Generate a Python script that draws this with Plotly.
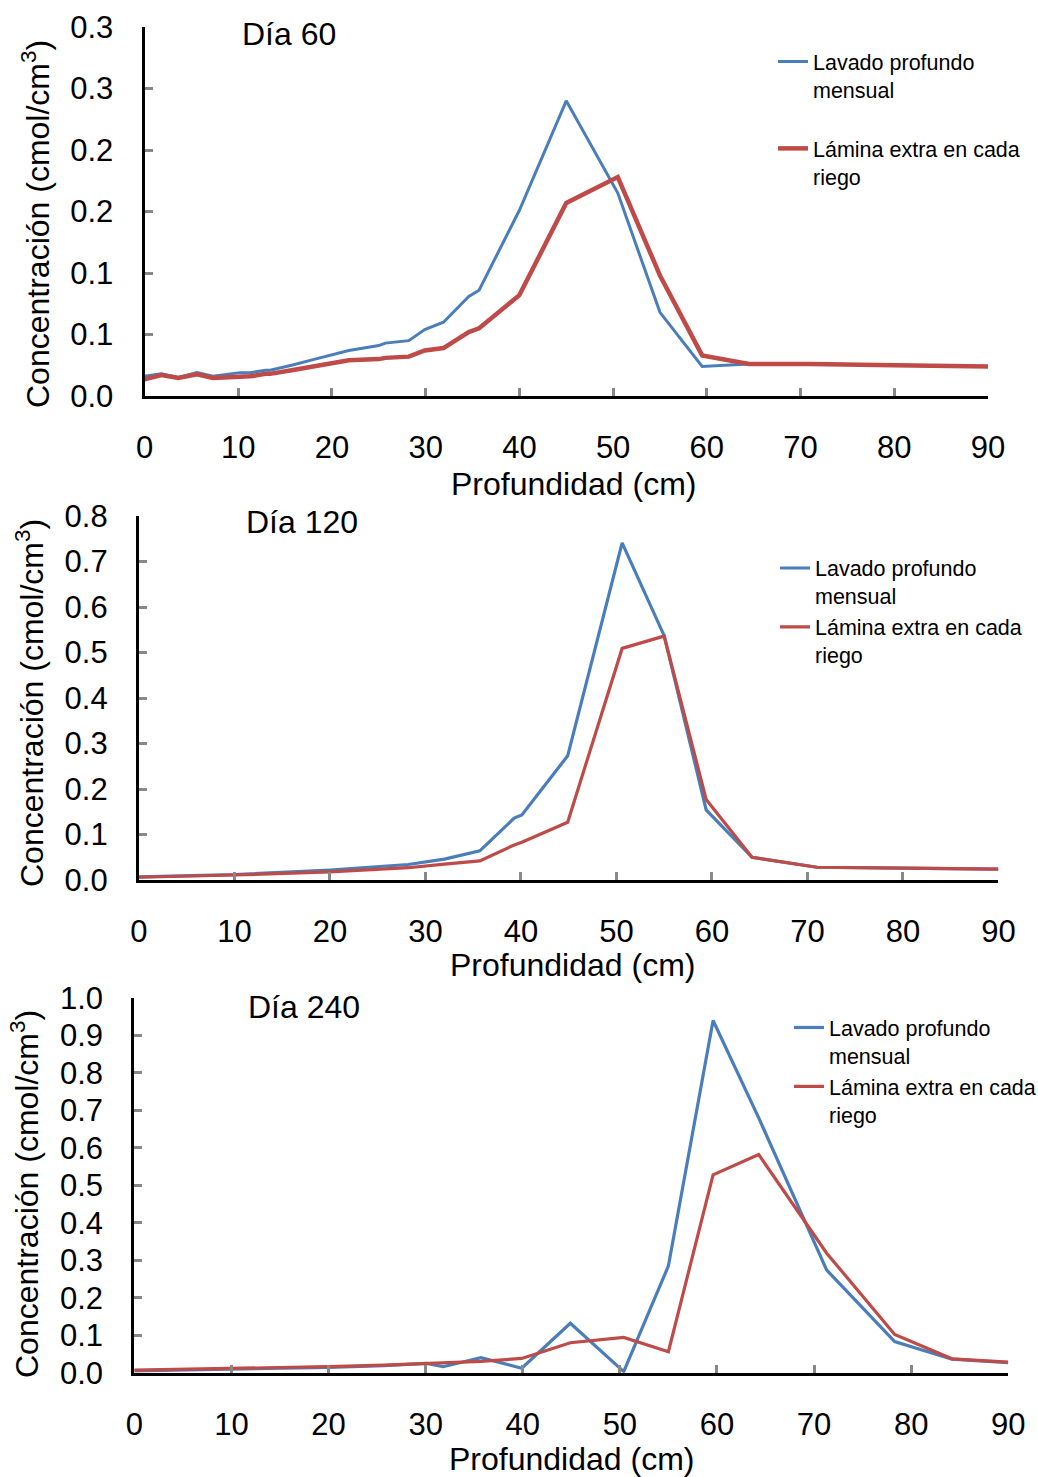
import plotly.graph_objects as go

# ---------------- data ----------------
depth_60 = [0, 1.8, 3.6, 5.6, 7.3, 10.2, 11.3, 12.9, 13.4, 15.7, 18.2, 21.8, 25.0, 25.7,
            28.2, 29.9, 31.9, 34.6, 35.7, 40, 45, 50.5, 55, 59.5, 64.5, 71, 80, 90]
lavado_60 = [0.016, 0.018, 0.015, 0.019, 0.016, 0.019, 0.019, 0.021, 0.021, 0.025, 0.030,
             0.037, 0.041, 0.043, 0.045, 0.054, 0.060, 0.081, 0.086, 0.151, 0.240, 0.165,
             0.068, 0.024, 0.026, 0.026, 0.025, 0.024]
lamina_60 = [0.0135, 0.017, 0.0146, 0.0176, 0.0146, 0.016, 0.016, 0.018, 0.018, 0.021, 0.024,
             0.029, 0.030, 0.031, 0.032, 0.037, 0.039, 0.052, 0.055, 0.082, 0.157, 0.178,
             0.098, 0.033, 0.026, 0.026, 0.025, 0.024]

depth_120 = [0, 10, 20, 25, 28.2, 32.0, 35.7, 39.3, 40.1, 44.9, 50.6, 55.0, 59.4, 64.2, 71.0, 80, 90]
lavado_120 = [0.007, 0.012, 0.022, 0.029, 0.034, 0.046, 0.064, 0.136, 0.143, 0.273, 0.741,
              0.537, 0.154, 0.050, 0.028, 0.026, 0.024]
lamina_120 = [0.006, 0.011, 0.018, 0.023, 0.027, 0.035, 0.042, 0.077, 0.083, 0.127, 0.509,
              0.536, 0.177, 0.050, 0.028, 0.026, 0.024]

depth_240 = [0, 10, 20, 25.7, 30.1, 31.8, 35.7, 39.9, 44.9, 50.4, 55, 59.6, 64.3, 71.3, 78.3, 84.2, 90]
lavado_240 = [0.005, 0.009, 0.014, 0.019, 0.025, 0.016, 0.040, 0.012, 0.132, 0.003, 0.285,
              0.940, 0.680, 0.274, 0.083, 0.036, 0.027]
lamina_240 = [0.007, 0.011, 0.016, 0.020, 0.024, 0.025, 0.030, 0.038, 0.080, 0.094, 0.056,
              0.528, 0.582, 0.319, 0.102, 0.037, 0.028]

x_ticks = [0, 10, 20, 30, 40, 50, 60, 70, 80, 90]
y_ticks_60 = [0, 0.05, 0.10, 0.15, 0.20, 0.25, 0.30]
y_labels_60 = ["0.0", "0.1", "0.1", "0.2", "0.2", "0.3", "0.3"]
y_ticks_120 = [0, 0.1, 0.2, 0.3, 0.4, 0.5, 0.6, 0.7, 0.8]
y_ticks_240 = [0, 0.1, 0.2, 0.3, 0.4, 0.5, 0.6, 0.7, 0.8, 0.9, 1.0]

name_a = "Lavado profundo<br>mensual"
name_b = "Lámina extra en cada<br>riego"
titles = ["Día 60", "Día 120", "Día 240"]
x_title = "Profundidad (cm)"
y_title = "Concentración (cmol/cm<sup>3</sup>)"

BLUE = "#4A7EBB"
RED = "#BE4B48"
FONT = "Liberation Sans, Arial, sans-serif"
W, H = 1038, 1477

def px_x(p):
    return p / W

def px_y(p):
    return 1 - p / H

# pixel boxes of the three panels in the screenshot: (x0, x1, y_bottom, y_top)
boxes = [(144.5, 988, 396, 27), (138.9, 998.4, 880, 516), (134.3, 1008.3, 1372.7, 998)]

fig = go.Figure()

panels = [
    (depth_60, lavado_60, lamina_60, 3, 4.5),
    (depth_120, lavado_120, lamina_120, 3.2, 3.2),
    (depth_240, lavado_240, lamina_240, 3.2, 3.2),
]
for i, (d, a, b, wa, wb) in enumerate(panels):
    sfx = "" if i == 0 else str(i + 1)
    leg = "legend" if i == 0 else "legend" + str(i + 1)
    fig.add_trace(go.Scatter(x=d, y=a, mode="lines", name=name_a,
                             line=dict(color=BLUE, width=wa),
                             xaxis="x" + sfx, yaxis="y" + sfx, legend=leg,
                             legendgroup="a" + str(i)))
    fig.add_trace(go.Scatter(x=d, y=b, mode="lines", name=name_b,
                             line=dict(color=RED, width=wb),
                             xaxis="x" + sfx, yaxis="y" + sfx, legend=leg,
                             legendgroup="b" + str(i)))

axis_common = dict(showline=True, linecolor="black", linewidth=3, ticks="inside",
                   ticklen=8, tickwidth=3, tickcolor="#888888", showgrid=False,
                   zeroline=False, tickfont=dict(family=FONT, size=31, color="black"),
                   ticklabelstandoff=22, automargin=False)

ylists = [(y_ticks_60, y_labels_60, 0.30), (y_ticks_120, [f"{v:.1f}" for v in y_ticks_120], 0.8),
          (y_ticks_240, [f"{v:.1f}" for v in y_ticks_240], 1.0)]

layout = dict(width=W, height=H, margin=dict(l=0, r=0, t=0, b=0, pad=0, autoexpand=False),
              plot_bgcolor="white", paper_bgcolor="white",
              font=dict(family=FONT, color="black"))
annotations = []
legend_pos = [(773, 41, 28), (775, 547.5, 0), (789, 1007, 0)]
for i, (x0, x1, yb, yt) in enumerate(boxes):
    sfx = "" if i == 0 else str(i + 1)
    tv, tt, ymax = ylists[i]
    layout["xaxis" + sfx] = dict(axis_common, domain=[px_x(x0), px_x(x1)], range=[0, 90],
                                 tickvals=x_ticks, anchor="y" + sfx)
    layout["yaxis" + sfx] = dict(axis_common, domain=[px_y(yb), px_y(yt)], range=[0, ymax],
                                 tickvals=tv, ticktext=tt, anchor="x" + sfx)
    lx, ly, gap = legend_pos[i]
    leg = "legend" if i == 0 else "legend" + str(i + 1)
    layout[leg] = dict(x=px_x(lx), y=px_y(ly), xanchor="left", yanchor="top",
                       bgcolor="rgba(0,0,0,0)", font=dict(family=FONT, size=21.5, color="black"),
                       valign="top", tracegroupgap=gap, itemwidth=30)
    # panel title
    title_pos = [(289, 34), (302, 522), (304, 1007)][i]
    annotations.append(dict(text=titles[i], x=px_x(title_pos[0]), y=px_y(title_pos[1]),
                            xref="paper", yref="paper", showarrow=False,
                            font=dict(family=FONT, size=32, color="black"),
                            xanchor="center", yanchor="middle"))
    # axis titles
    xt_pos = [(573, 484), (572, 965), (571, 1459)][i]
    annotations.append(dict(text=x_title, x=px_x(xt_pos[0]), y=px_y(xt_pos[1]),
                            xref="paper", yref="paper", showarrow=False,
                            font=dict(family=FONT, size=32, color="black"),
                            xanchor="center", yanchor="middle"))
    yt_pos = [(36, 224), (30, 703), (25, 1194)][i]
    annotations.append(dict(text=y_title, x=px_x(yt_pos[0]), y=px_y(yt_pos[1]),
                            xref="paper", yref="paper", showarrow=False, textangle=-90,
                            font=dict(family=FONT, size=32, color="black"),
                            xanchor="center", yanchor="middle"))

layout["annotations"] = annotations
fig.update_layout(**layout)
fig.write_html("out.html", config={"displayModeBar": False},
               post_script="document.body.style.margin='0';document.body.style.overflow='hidden';")
